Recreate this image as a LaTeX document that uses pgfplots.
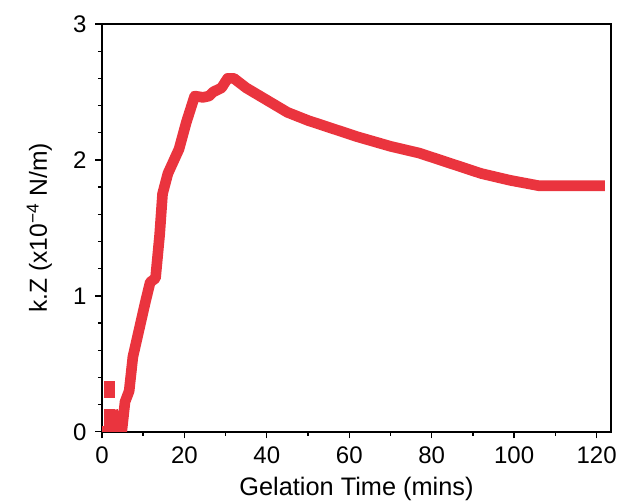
\documentclass[border=0pt]{standalone}
\usepackage{pgfplots}
\pgfplotsset{compat=1.18}
\usepackage{fontspec}
\setmainfont{Liberation Sans}
\definecolor{kred}{RGB}{234,52,62}
\begin{document}
\begin{tikzpicture}
\begin{axis}[
  name=ax,
  scale only axis,
  width=382pt, height=306pt,
  xmin=0, xmax=123.5, ymin=0, ymax=3,
  xtick={0,20,...,120}, ytick={0,1,2,3},
  minor x tick num=1, minor y tick num=4,
  tick align=outside, axis line style={line width=1.1pt},
  major tick length=5pt, minor tick length=3pt,
  every tick/.style={black, line width=1pt},
  xtick pos=bottom, ytick pos=left,
  ticklabel style={font=\fontsize{18}{20}\selectfont},
  yticklabel style={xshift=-3pt},
  xticklabel style={yshift=-3pt},
  /pgf/number format/assume math mode=true,
  xlabel={Gelation Time (mins)},
  ylabel={k.Z (x10\textsuperscript{−4} N/m)},
  xlabel style={font=\fontsize{19}{21}\selectfont, yshift=-3pt},
  ylabel style={font=\fontsize{18.5}{21}\selectfont, yshift=9pt},
  clip=true,
]
\addplot[kred, line width=8pt, line join=round] coordinates {(0,0) (1.8,0) (1.8,0.17)};
\addplot[kred, line width=8pt] coordinates {(1.8,0.25) (1.8,0.37)};
\addplot[kred, line width=8pt, line join=round] coordinates {
(2.6,0.16) (3.4,0.02) (4.8,0.0) (5.6,0.22) (6.6,0.3) (7.5,0.55) (9,0.75)
(10.5,0.95) (11.7,1.1) (13,1.13) (14,1.45) (14.7,1.75) (16,1.9) (17.5,2.0)
(18.7,2.08) (20.5,2.28) (22.5,2.47) (24.5,2.46) (26,2.47) (27,2.5) (29,2.53)
(30.5,2.6) (32,2.6) (35,2.53) (40,2.44) (45,2.35) (50,2.29) (56,2.23)
(62,2.17) (70,2.1) (77,2.05) (85,1.97) (92,1.9) (99,1.85) (106,1.81) (122,1.81)};
\end{axis}
\pgfresetboundingbox
\path ([shift={(-76.5pt,-52.5pt)}]ax.south west) rectangle ([shift={(6pt,18pt)}]ax.north east);
\end{tikzpicture}
\end{document}
